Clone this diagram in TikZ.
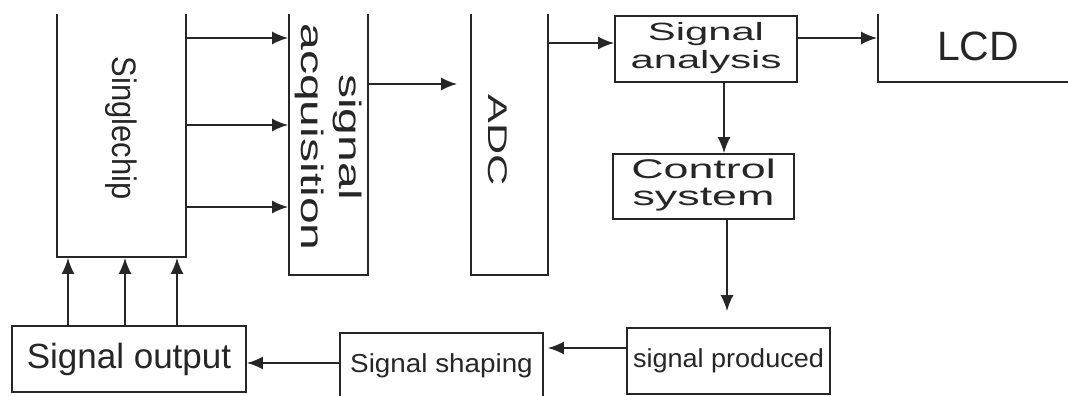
\documentclass[tikz,border=0pt]{standalone}
\usepackage{fontspec}
\setmainfont{Liberation Sans}
\usetikzlibrary{arrows.meta}
\newcommand{\widen}[2]{\scalebox{#1}[1]{#2}}

\begin{document}
\begin{tikzpicture}[x=1pt,y=-1pt]
\useasboundingbox (0,0) rectangle (1068,396);
\tikzstyle{every node}=[draw,
			line width=1.8pt,
			color=black!85,
			text=black!85,
			inner sep=0pt
			]
\tikzstyle{flow}=[line width=1.8pt, black!85, -{Latex[length=16pt,width=13pt]}]

\begin{scope}
\clip (0,15) rectangle (1068,396);

\node[minimum width=129pt, minimum height=258pt] (chip) at (121.5,128) {\fontsize{34}{40}\selectfont\rotatebox{-90}{\widen{0.91}{Singlechip}}};

\node[minimum width=79pt, minimum height=276pt] (acq) at (328.5,137) {\fontsize{31}{38}\selectfont\rotatebox{-90}{\widen{1.55}{\begin{tabular}{@{}c@{}}signal\\acquisition\end{tabular}}}};

\node[minimum width=77pt, minimum height=270pt] (adc) at (509.5,140) {\fontsize{27}{32}\selectfont\rotatebox{-90}{\raisebox{0pt}[43pt][0pt]{\widen{1.6}{ADC}}}};

\node[minimum width=182pt, minimum height=66pt] (ana) at (706,49) {\fontsize{25}{28}\selectfont\widen{1.67}{\begin{tabular}{@{}c@{}}Signal\\analysis\end{tabular}}};

\node[minimum width=200pt, minimum height=72pt] (lcd) at (978,46) {\fontsize{41}{48}\selectfont LCD};

\node[minimum width=181pt, minimum height=65pt] (ctrl) at (703.5,186.5) {\fontsize{27}{27}\selectfont\widen{1.66}{\begin{tabular}{@{}c@{}}Control\\system\end{tabular}}};

\node[minimum width=203pt, minimum height=66pt] (prod) at (728.5,361) {\fontsize{26}{30}\selectfont\widen{1.04}{signal produced}};

\node[minimum width=203pt, minimum height=66pt] (shape) at (441.5,366) {\fontsize{26}{30}\selectfont\widen{1.07}{Signal shaping}};

\node[minimum width=234pt, minimum height=66pt] (out) at (129,359) {\fontsize{35}{40}\selectfont Signal output};
\end{scope}

% singlechip to acquisition
\draw[flow] (chip.east |- 0,38) -- (acq.west |- 0,38);
\draw[flow] (chip.east |- 0,125) -- (acq.west |- 0,125);
\draw[flow] (chip.east |- 0,207) -- (acq.west |- 0,207);

\draw[flow, shorten >=13pt] (acq.east |- 0,84) -- (adc.west |- 0,84);
\draw[flow] (adc.east |- 0,43) -- (ana.west |- 0,43);
\draw[flow] (ana.east |- 0,38) -- (lcd.west |- 0,38);
\draw[flow] (ana.south -| 724,0) -- (ctrl.north -| 724,0);
\draw[flow, shorten >=16pt] (ctrl.south -| 727,0) -- (prod.north -| 727,0);
\draw[flow, shorten >=4pt] (prod.west |- 0,348) -- (shape.east |- 0,348);
\draw[flow] (shape.west |- 0,363) -- (out.east |- 0,363);

% output back to singlechip
\draw[flow] (out.north -| 68,0) -- (chip.south -| 68,0);
\draw[flow] (out.north -| 125,0) -- (chip.south -| 125,0);
\draw[flow] (out.north -| 177,0) -- (chip.south -| 177,0);

\end{tikzpicture}
\end{document}
